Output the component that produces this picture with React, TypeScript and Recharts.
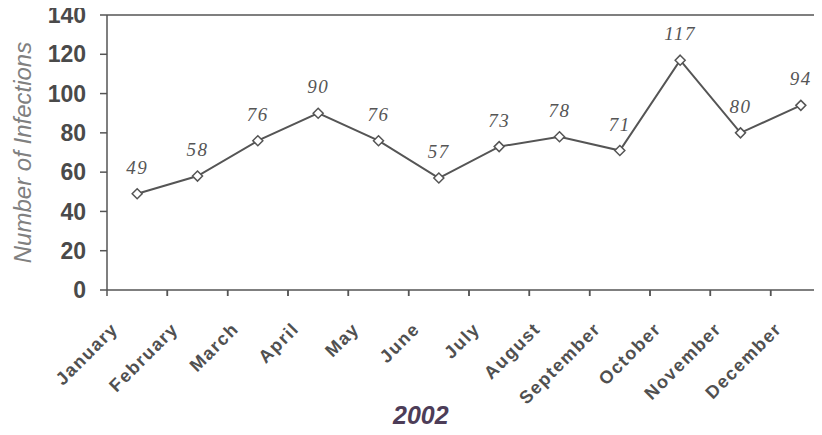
import React from 'react';
import { LineChart, Line, XAxis, YAxis, ReferenceLine, LabelList } from 'recharts';

const months = [
    'January', 'February', 'March', 'April', 'May', 'June',
    'July', 'August', 'September', 'October', 'November', 'December',
];
const infections = [49, 58, 76, 90, 76, 57, 73, 78, 71, 117, 80, 94];
const yTicks = [0, 20, 40, 60, 80, 100, 120, 140];
const yAxisTitle = 'Number of Infections';
const yearLabel = '2002';

const data = months.map((month, i) => ({ month, infections: infections[i] }));

const sans = '"Liberation Sans", Arial, sans-serif';
const serif = '"Liberation Serif", "Times New Roman", serif';
const ink = '#555';

const Diamond = (props: any) => {
    const { cx, cy } = props;
    if (cx == null || cy == null) return null;
    const r = 5;
    return (
        <path
            d={`M${cx},${cy - r}L${cx + r},${cy}L${cx},${cy + r}L${cx - r},${cy}Z`}
            fill="#fff"
            stroke={ink}
            strokeWidth={1.5}
        />
    );
};

// tick marks sit on band edges, labels slant up towards the band centre
const MonthTick = (props: any) => {
    const { x, y, payload } = props;
    const half = payload?.offset || 30;
    return (
        <g>
            <line x1={x - half} y1={y} x2={x - half} y2={y + 6} stroke={ink} strokeWidth={1.5} />
            <line x1={x + half} y1={y} x2={x + half} y2={y + 6} stroke={ink} strokeWidth={1.5} />
            <text
                transform={`translate(${x - 18},${y + 40}) rotate(-45)`}
                textAnchor="end"
                fontFamily={sans}
                fontSize={18}
                fontWeight="bold"
                letterSpacing={1.5}
                fill="#505050"
            >
                {payload.value}
            </text>
        </g>
    );
};

const YTitle = (props: any) => {
    const { viewBox } = props;
    const x = viewBox.x + 31;
    const y = viewBox.y + viewBox.height / 2;
    return (
        <text
            x={x}
            y={y}
            transform={`rotate(-90, ${x}, ${y})`}
            textAnchor="middle"
            fontFamily={sans}
            fontSize={24}
            fontStyle="italic"
            fill="#808080"
        >
            {yAxisTitle}
        </text>
    );
};

export default function App() {
    return (
        <div style={{ position: 'relative', width: 822, height: 435, overflow: 'hidden', margin: -8, background: '#fff' }}>
            <LineChart width={840} height={435} data={data} margin={{ top: 15, right: 9, bottom: 0, left: 0 }}>
                <XAxis
                    dataKey="month"
                    scale="band"
                    height={145}
                    interval={0}
                    tickLine={false}
                    tickSize={0}
                    tickMargin={0}
                    tick={<MonthTick />}
                    stroke={ink}
                    strokeWidth={1.5}
                />
                <YAxis
                    width={107}
                    domain={[0, 140]}
                    ticks={yTicks}
                    interval={0}
                    tickSize={7}
                    tickMargin={14}
                    stroke={ink}
                    strokeWidth={1.5}
                    tick={{ fontFamily: sans, fontSize: 23, fontWeight: 'bold', fill: '#4a4a4a' }}
                    label={<YTitle />}
                />
                <ReferenceLine y={140} stroke={ink} strokeWidth={1.5} />
                <Line
                    dataKey="infections"
                    stroke={ink}
                    strokeWidth={2}
                    dot={<Diamond />}
                    activeDot={false}
                    isAnimationActive={false}
                >
                    <LabelList
                        dataKey="infections"
                        position="top"
                        offset={20}
                        style={{ fontFamily: serif, fontSize: 19, fontStyle: 'italic', letterSpacing: 1.5, fill: '#555' }}
                    />
                </Line>
            </LineChart>
            <div
                style={{
                    position: 'absolute',
                    left: 393,
                    top: 403,
                    fontFamily: sans,
                    fontSize: 25,
                    fontWeight: 'bold',
                    fontStyle: 'italic',
                    color: '#4d3d58',
                    lineHeight: 1,
                }}
            >
                {yearLabel}
            </div>
        </div>
    );
}
